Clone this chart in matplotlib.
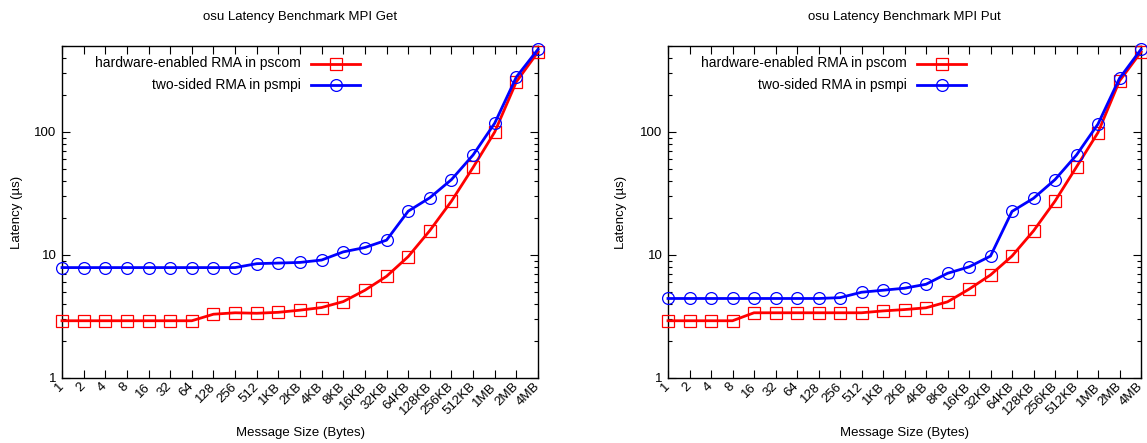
import numpy as np
import matplotlib
matplotlib.use("Agg")
import matplotlib.pyplot as plt
from matplotlib.ticker import LogLocator, FixedLocator, NullFormatter

plt.rcParams['font.family'] = ['Liberation Sans', 'DejaVu Sans']

# Message sizes (1 B .. 4 MB, powers of two)
sizes = ["1", "2", "4", "8", "16", "32", "64", "128", "256", "512",
         "1KB", "2KB", "4KB", "8KB", "16KB", "32KB", "64KB", "128KB",
         "256KB", "512KB", "1MB", "2MB", "4MB"]

# MPI_Get latency (us)
get_pscom = [2.92, 2.92, 2.92, 2.92, 2.92, 2.92, 2.92, 3.30, 3.39, 3.36,
             3.42, 3.56, 3.74, 4.18, 5.17, 6.71, 9.7, 15.8, 27.4, 51.5,
             100, 256, 447]
get_psmpi = [7.9, 7.9, 7.9, 7.9, 7.9, 7.9, 7.9, 7.9, 7.9, 8.5,
             8.6, 8.7, 9.1, 10.6, 11.5, 13.2, 22.7, 29.2, 41, 65,
             118, 280, 470]

# MPI_Put latency (us)
put_pscom = [2.92, 2.92, 2.92, 2.92, 3.39, 3.39, 3.39, 3.39, 3.39, 3.39,
             3.51, 3.60, 3.72, 4.16, 5.27, 6.88, 9.8, 15.7, 27.4, 52,
             99, 260, 447]
put_psmpi = [4.43, 4.43, 4.43, 4.43, 4.43, 4.43, 4.43, 4.43, 4.50, 4.98,
             5.17, 5.37, 5.78, 7.1, 8.0, 9.8, 22.6, 28.9, 41, 65,
             116, 273, 470]

titles = ["osu Latency Benchmark MPI Get", "osu Latency Benchmark MPI Put"]
labels = ["hardware-enabled RMA in pscom", "two-sided RMA in psmpi"]

W, H = 1147, 443
fig = plt.figure(figsize=(W / 100, H / 100), dpi=100)

panels = [
    (62, 538, titles[0], get_pscom, get_psmpi, -0.095),
    (668, 1141, titles[1], put_pscom, put_psmpi, -0.100),
]
top_px, bot_px = 46, 378
fs = 9.5
sq_ms, ci_ms = 8.0, 8.5

for x0, x1, title, red_vals, blue_vals, ylab_x in panels:
    ax = fig.add_axes([x0 / W, 1 - bot_px / H, (x1 - x0) / W, (bot_px - top_px) / H])
    x = np.arange(len(sizes))
    ax.plot(x, red_vals, color='#ff0000', lw=2.0, marker='s', ms=sq_ms,
            mfc='none', mec='#ff0000', mew=0.9, zorder=3, clip_on=False)
    ax.plot(x, blue_vals, color='#0000ff', lw=2.0, marker='o', ms=ci_ms,
            mfc='none', mec='#0000ff', mew=0.9, zorder=4, clip_on=False)

    ax.set_yscale('log')
    ax.set_ylim(1, 500)
    ax.set_xlim(0, len(sizes) - 1)
    ax.yaxis.set_major_locator(FixedLocator([1, 10, 100]))
    ax.set_yticklabels(["1", "10", "100"], fontsize=fs)
    ax.yaxis.set_minor_locator(LogLocator(base=10, subs=np.arange(2, 10)))
    ax.yaxis.set_minor_formatter(NullFormatter())
    ax.set_xticks(x)
    ax.set_xticklabels(sizes, rotation=45, ha='right', va='center',
                       rotation_mode='anchor', fontsize=fs)
    ax.tick_params(which='major', direction='in', top=True, right=True,
                   length=6, width=0.8)
    ax.tick_params(axis='x', which='major', pad=5)
    ax.tick_params(axis='y', which='major', pad=4)
    ax.tick_params(which='minor', direction='in', right=True, length=3, width=0.8)
    for s in ax.spines.values():
        s.set_linewidth(1.0)

    ax.set_title(title, fontsize=fs, y=1.088, va='center', pad=0)
    ax.set_ylabel("Latency (µs)", fontsize=fs, va='center')
    ax.yaxis.set_label_coords(ylab_x, 0.5)
    ax.set_xlabel("Message Size (Bytes)", fontsize=fs, va='center')
    ax.xaxis.set_label_coords(0.5, -0.166)

    # key: right-aligned text followed by a line sample with its marker
    wpx = x1 - x0
    hpx = bot_px - top_px
    tx = (301 - 62) / wpx
    lx0, lx1 = (311 - 62) / wpx, (360 - 62) / wpx
    for i, (lab, col, mk, ms) in enumerate([(labels[0], '#ff0000', 's', sq_ms),
                                            (labels[1], '#0000ff', 'o', ci_ms)]):
        yy = 1 - ((63.5 if i == 0 else 85) - top_px) / hpx
        ax.text(tx, yy, lab, transform=ax.transAxes, ha='right', va='center',
                fontsize=10)
        ax.plot([lx0, lx1], [yy, yy], color=col, lw=2.0, transform=ax.transAxes,
                clip_on=False)
        ax.plot([(lx0 + lx1) / 2], [yy], marker=mk, ms=ms, mfc='none', mec=col,
                mew=0.9, transform=ax.transAxes, clip_on=False)

fig.savefig("out.png", dpi=100)
